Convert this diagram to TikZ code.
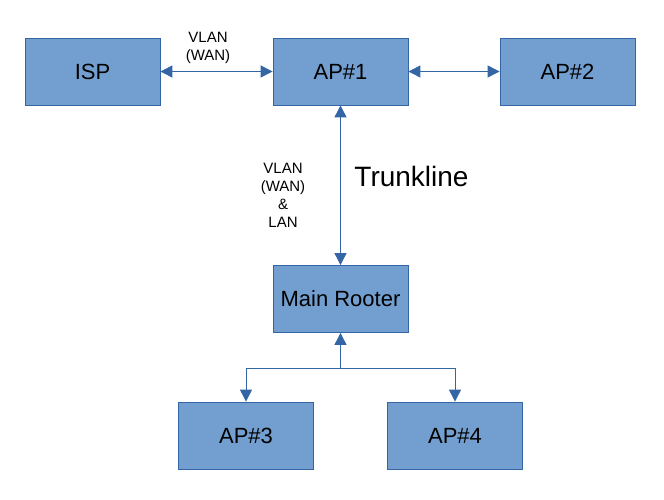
\documentclass[tikz,border=0pt]{standalone}
\usepackage{fontspec}
\setmainfont{Liberation Sans}
\usetikzlibrary{arrows.meta,positioning}
\definecolor{boxblue}{HTML}{729FCF}
\definecolor{lineblue}{HTML}{3465A4}

\begin{document}
\begin{tikzpicture}[x=1pt,y=-1pt,
 box/.style={draw=lineblue,line width=0.8pt,fill=boxblue,
   minimum width=135pt,minimum height=67pt,font=\fontsize{22}{26}\selectfont},
 lbl/.style={align=center,font=\fontsize{15}{18}\selectfont},
 arr/.style={-{Triangle[length=12pt,width=12pt]},line width=0.9pt,draw=lineblue},
 both/.style={arr,{Triangle[length=12pt,width=12pt]}-{Triangle[length=12pt,width=12pt]}}]
\useasboundingbox (0,0) rectangle (664,500);
\node[box] (isp) at (92.5,71.5) {ISP};
\node[box] (ap1) at (340.5,71.5) {AP\#1};
\node[box] (ap2) at (567.5,71.5) {AP\#2};
\node[box] (rooter) at (340.5,299) {Main Rooter};
\node[box] (ap3) at (246,435.5) {AP\#3};
\node[box] (ap4) at (455,435.5) {AP\#4};
\coordinate (split) at (340.5,368);
\node[lbl] (wan) at (208,48) {VLAN\\(WAN)};
\node[lbl] (trunk) at (283,195) {VLAN\\(WAN)\\\&\\LAN};
\node[font=\fontsize{28}{32}\selectfont] (tl) at (411.5,176) {Trunkline};
\draw[both] (isp)--(ap1); \draw[both] (ap1)--(ap2);
\draw[both] (ap1)--(rooter);
\draw[arr] (split)--(rooter);
\draw[arr] (split)-|(ap3); \draw[arr] (split)-|(ap4);
\end{tikzpicture}
\end{document}
